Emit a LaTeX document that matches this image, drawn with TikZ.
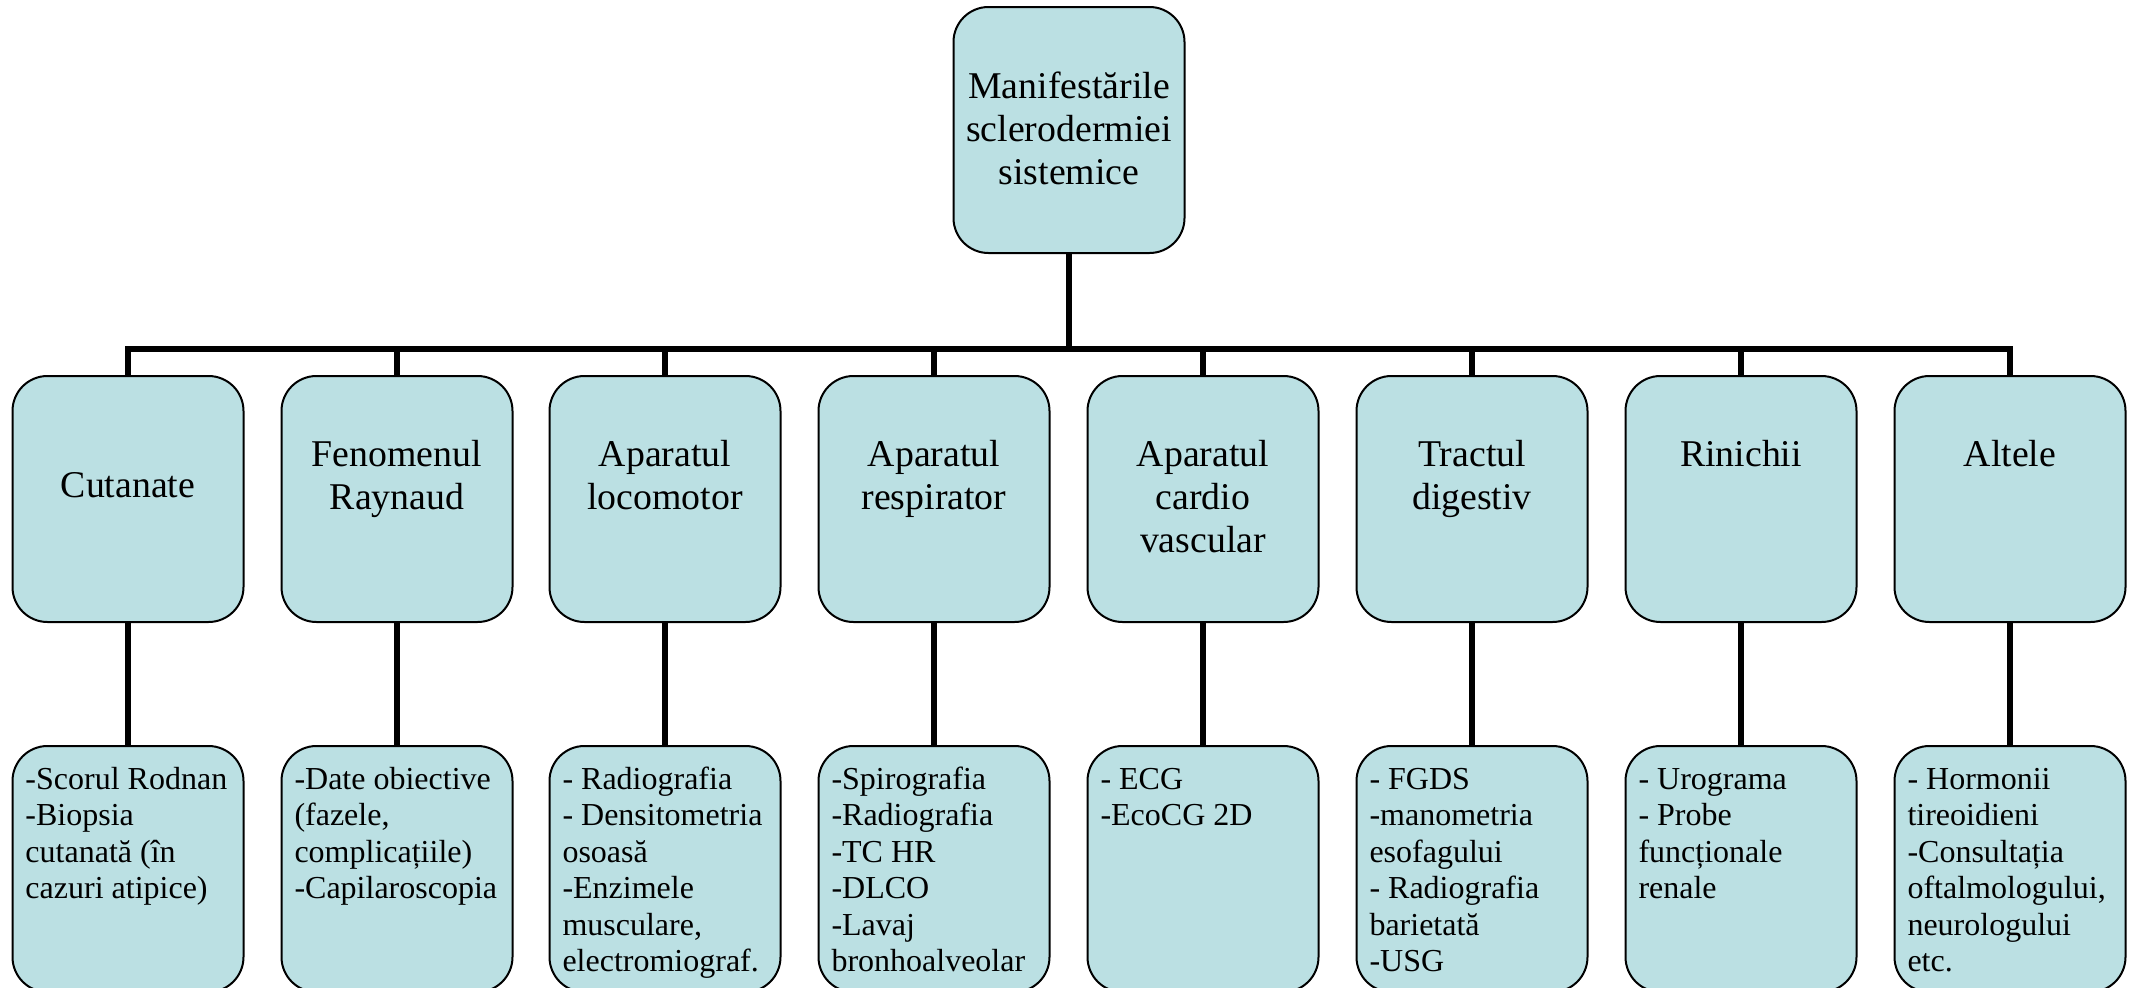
\documentclass[tikz,border=0pt]{standalone}
\usepackage{fontspec}
\setmainfont{Liberation Serif}
\definecolor{boxfill}{HTML}{BBE0E3}
\tikzset{
  box/.style={draw=black, line width=2pt, fill=boxfill, rounded corners=35pt, inner sep=0pt, outer sep=0pt},
  conn/.style={draw=black, line width=6pt, line join=miter},
}
\newcommand{\midtxt}[2]{\parbox[c][246pt][t]{231pt}{\fontsize{37.8pt}{43pt}\selectfont\centering\rule{0pt}{#1}#2}}
\newcommand{\lowtxt}[1]{\parbox[c][246pt][t]{231pt}{\fontsize{32pt}{36.5pt}\selectfont\raggedright\leftskip=13pt\rule{0pt}{43pt}#1}}
\begin{document}
\begin{tikzpicture}[x=1pt,y=-1pt]
\useasboundingbox (0,0) rectangle (2134,988);
\coordinate (bar) at (1069,349);
% top
\node[box] (top) at (1069,130) {\midtxt{91pt}{Manifestările\\sclerodermiei\\sistemice}};
% middle row
\node[box] (c1) at (128,499)  {\midtxt{121pt}{Cutanate}};
\node[box] (c2) at (397,499)  {\midtxt{90pt}{Fenomenul\\Raynaud}};
\node[box] (c3) at (665,499)  {\midtxt{90pt}{Aparatul\\locomotor}};
\node[box] (c4) at (934,499)  {\midtxt{90pt}{Aparatul\\respirator}};
\node[box] (c5) at (1203,499) {\midtxt{90pt}{Aparatul\\cardio\\vascular}};
\node[box] (c6) at (1472,499) {\midtxt{90pt}{Tractul\\digestiv}};
\node[box] (c7) at (1741,499) {\midtxt{90pt}{Rinichii}};
\node[box] (c8) at (2010,499) {\midtxt{90pt}{Altele}};
% bottom row
\node[box] (d1) at (128,869)  {\lowtxt{-Scorul Rodnan\\-Biopsia\\cutanată (în\\cazuri atipice)}};
\node[box] (d2) at (397,869)  {\lowtxt{-Date obiective\\(fazele,\\complicațiile)\\-Capilaroscopia}};
\node[box] (d3) at (665,869)  {\lowtxt{- Radiografia\\- Densitometria\\osoasă\\-Enzimele\\musculare,\\electromiograf.}};
\node[box] (d4) at (934,869)  {\lowtxt{-Spirografia\\-Radiografia\\-TC HR\\-DLCO\\-Lavaj\\bronhoalveolar}};
\node[box] (d5) at (1203,869) {\lowtxt{- ECG\\-EcoCG 2D}};
\node[box] (d6) at (1472,869) {\lowtxt{- FGDS\\-manometria\\esofagului\\- Radiografia\\barietată\\-USG}};
\node[box] (d7) at (1741,869) {\lowtxt{- Urograma\\- Probe\\funcționale\\renale}};
\node[box] (d8) at (2010,869) {\lowtxt{- Hormonii\\tireoidieni\\-Consultația\\oftalmologului,\\neurologului\\etc.}};
% connectors
\draw[conn] (top.south) -- (top.south |- bar);
\draw[conn] (c1.north) -- (c1.north |- bar) -- (c8.north |- bar) -- (c8.north);
\foreach \i in {2,...,7} { \draw[conn] (c\i.north |- bar) -- (c\i.north); }
\foreach \i in {1,...,8} { \draw[conn] (c\i.south) -- (d\i.north); }
\end{tikzpicture}
\end{document}
